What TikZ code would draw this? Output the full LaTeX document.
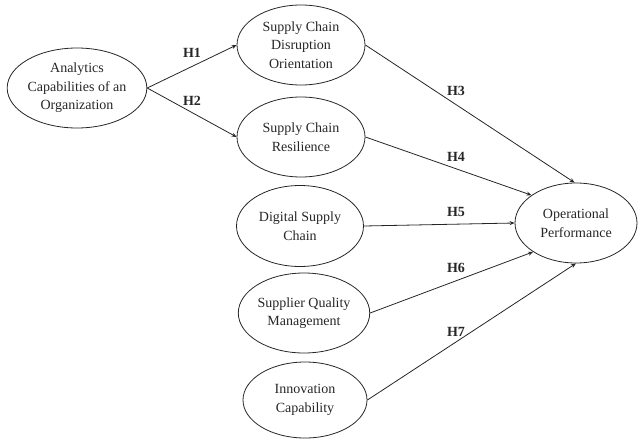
\documentclass[tikz,border=0pt]{standalone}
\usepackage{fontspec}
\setmainfont{Liberation Serif}
\usetikzlibrary{shapes.geometric,arrows.meta}
\begin{document}
\begin{tikzpicture}[x=1pt,y=-1pt,
  constr/.style={ellipse,draw=black!85,line width=0.8pt,inner sep=0pt,align=center,
    font=\fontsize{14}{18.5}\selectfont,text=black!85},
  link/.style={line width=0.8pt,draw=black!85,-{Stealth[length=5pt,width=4pt]}},
  hyp/.style={font=\fontsize{14}{16}\selectfont\bfseries,text=black!85}]
\useasboundingbox (0,0) rectangle (639,439);
\node[constr,minimum width=126pt,minimum height=80pt] (aco) at (77,88) {Analytics\\Capabilities of an\\Organization};
\node[constr,minimum width=128pt,minimum height=80pt] (scdo) at (301,45) {Supply Chain\\Disruption\\Orientation};
\node[constr,minimum width=128pt,minimum height=80pt] (scr) at (301,137) {Supply Chain\\Resilience};
\node[constr,minimum width=127pt,minimum height=81pt] (dsc) at (300,226) {Digital Supply\\Chain};
\node[constr,minimum width=126pt,minimum height=80pt] (sqm) at (304,313) {Supplier Quality\\Management};
\node[constr,minimum width=124pt,minimum height=76pt] (ic) at (305,400) {Innovation\\Capability};
\node[constr,minimum width=122pt,minimum height=80pt] (op) at (576,223) {Operational\\Performance};
\draw[link] (aco.east) -- (scdo.west);
\draw[link] (aco.east) -- (scr.west);
\draw[link] (scdo.east) -- (op.92);
\draw[link] (scr.east) -- (op.148);
\draw[link] (dsc.east) -- (op.west);
\draw[link] (sqm.east) -- (op.214);
\draw[link] (ic.east) -- (op.-90);
\node[hyp] (h1) at (192,53) {H1};
\node[hyp] (h2) at (192,101) {H2};
\node[hyp] (h3) at (456,91) {H3};
\node[hyp] (h4) at (456,157) {H4};
\node[hyp] (h5) at (456,212) {H5};
\node[hyp] (h6) at (456,268) {H6};
\node[hyp] (h7) at (456,332) {H7};
\end{tikzpicture}
\end{document}
